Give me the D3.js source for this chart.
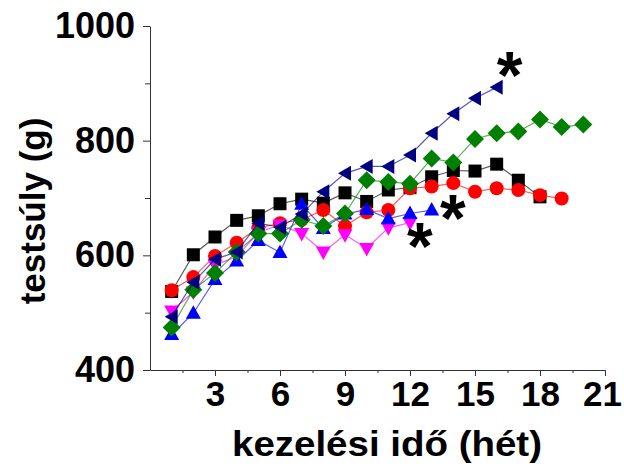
<!DOCTYPE html>
<html>
<head>
<meta charset="utf-8">
<script src="https://cdn.jsdelivr.net/npm/d3@7"></script>
<style>
  body { margin: 0; background: #fff; }
  svg text { font-family: "Liberation Sans", Arial, sans-serif; font-weight: bold; fill: #000; }
</style>
</head>
<body>
<svg id="chart" width="624" height="466"></svg>
<script>
  // body weight (g) by week of treatment, one array per group
  let black   = [537, 601, 632, 661, 669, 690, 698, 691, 709, 694, 714, 718, 737, 748, 747, 759, 731, 702]
  let red     = [539, 562, 599, 622, 648, 656, 662, 679, 651, 675, 679, 717, 720, 726, 711, 717, 714, 705, 699]
  let blue    = [462, 499, 558, 590, 626, 605, 689, 647, 672, 680, 664, 673, 679]
  let magenta = [503, 536, 583, 598, 640, 653, 638, 606, 636, 612, 648, 657]
  let green   = [474, 540, 569, 606, 638, 638, 662, 651, 673, 731, 728, 725, 769, 762, 803, 813, 816, 837, 824, 828]
  let navy    = [493, 553, 593, 606, 656, 649, 672, 711, 743, 755, 755, 775, 813, 847, 874, 893]

  let xTicks = [3, 6, 9, 12, 15, 18, 21]
  let xMinor = [1.5, 4.5, 7.5, 10.5, 13.5, 16.5, 19.5]
  let yTicks = [400, 600, 800, 1000]
  let yMinor = [500, 700, 900]

  // asterisks marking end of the groups that died early [week, weight]
  let stars = [[16.6, 930], [13.98, 681], [12.46, 632]]

  let series = [
    { vals: black,   color: '#000000', shape: 'square' },
    { vals: red,     color: '#ff0000', shape: 'circle' },
    { vals: magenta, color: '#ff00ff', shape: 'down' },
    { vals: blue,    color: '#0000ff', shape: 'up' },
    { vals: green,   color: '#008000', shape: 'diamond' },
    { vals: navy,    color: '#000080', shape: 'left' }
  ]

  let svg = d3.select('#chart')

  let x = d3.scaleLinear().domain([0, 21]).range([150, 605])
  let y = d3.scaleLinear().domain([400, 1000]).range([370, 26])

  // axes
  let xAxis = svg.append('g').attr('transform', 'translate(0,370)')
    .call(d3.axisBottom(x).tickValues(xTicks).tickSize(6).tickSizeOuter(0).tickPadding(5))
  svg.append('g').attr('transform', 'translate(0,370)')
    .call(d3.axisBottom(x).tickValues(xMinor).tickSize(3).tickFormat('').tickSizeOuter(0))
    .select('.domain').remove()
  let yAxis = svg.append('g').attr('transform', 'translate(150,0)')
    .call(d3.axisLeft(y).tickValues(yTicks).tickFormat(d3.format('d')).tickSize(7).tickSizeOuter(0).tickPadding(8))
  svg.append('g').attr('transform', 'translate(150,0)')
    .call(d3.axisLeft(y).tickValues(yMinor).tickSize(5).tickFormat('').tickSizeOuter(0))
    .select('.domain').remove()

  svg.selectAll('.domain, .tick line').attr('stroke', '#333')
  xAxis.selectAll('text').style('font-size', '35px').attr('dy', '0.71em')
  xAxis.selectAll('.tick:last-of-type text').attr('dx', -3)
  yAxis.selectAll('text').style('font-size', '36px')

  // axis titles
  svg.append('text')
    .attr('x', 387).attr('y', 456)
    .attr('text-anchor', 'middle')
    .attr('textLength', 310)
    .attr('lengthAdjust', 'spacingAndGlyphs')
    .style('font-size', '35px')
    .text('kezelési idő (hét)')
  svg.append('text')
    .attr('transform', 'translate(45,211) rotate(-90)')
    .attr('text-anchor', 'middle')
    .style('font-size', '35px')
    .text('testsúly (g)')

  let shapes = {
    square: 'M-6.5,-6.5H6.5V6.5H-6.5Z',
    circle: 'M7,0A7,7 0 1,1 -7,0A7,7 0 1,1 7,0Z',
    up: 'M0,-8L7.5,5.5H-7.5Z',
    down: 'M0,8L7.5,-5.5H-7.5Z',
    left: 'M-7,0L6,-7.5V7.5Z',
    diamond: 'M0,-9L9,0L0,9L-9,0Z'
  }

  let line = d3.line().x((d, i) => x(i + 1)).y(d => y(d))

  series.forEach(s => {
    let g = svg.append('g')
    g.append('path')
      .attr('d', line(s.vals))
      .attr('fill', 'none')
      .attr('stroke', s.color)
      .attr('stroke-opacity', 0.65)
      .attr('stroke-width', 1.2)
    g.selectAll('path.pt')
      .data(s.vals)
      .enter()
      .append('path')
      .attr('class', 'pt')
      .attr('transform', (d, i) => `translate(${x(i + 1)},${y(d)})`)
      .attr('d', shapes[s.shape])
      .attr('fill', s.color)
  })

  svg.selectAll('text.star')
    .data(stars)
    .enter()
    .append('text')
    .attr('class', 'star')
    .attr('x', d => x(d[0]))
    .attr('y', d => y(d[1]) + 32)
    .attr('text-anchor', 'middle')
    .style('font-size', '66px')
    .text('*')
</script>
</body>
</html>
